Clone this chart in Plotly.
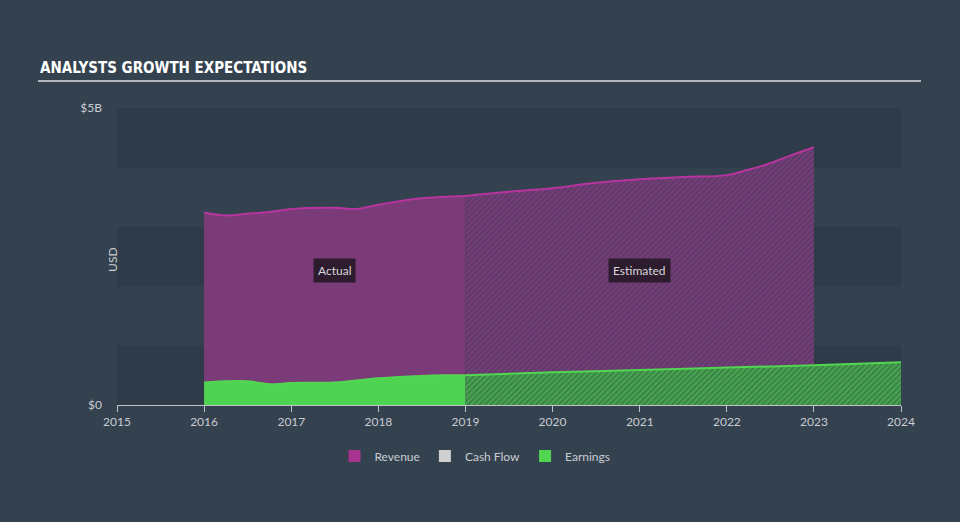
import plotly.graph_objects as go

# ---- data (USD billions) ----
rev_actual_x = ["2016-01-01", "2016-04-01", "2016-07-01", "2016-10-01", "2017-01-01",
                "2017-07-01", "2017-10-01", "2018-01-01", "2018-07-01", "2019-01-01"]
rev_actual_y = [3.24, 3.19, 3.22, 3.25, 3.30, 3.32, 3.30, 3.37, 3.48, 3.52]
rev_est_x = ["2019-01-01", "2019-07-01", "2020-01-01", "2020-07-01", "2021-01-01",
             "2021-07-01", "2022-01-01", "2022-04-01", "2022-07-01", "2022-10-01", "2023-01-01"]
rev_est_y = [3.52, 3.59, 3.65, 3.74, 3.80, 3.84, 3.87, 3.96, 4.07, 4.21, 4.34]

earn_actual_x = ["2016-01-01", "2016-07-01", "2016-10-01", "2017-01-01", "2017-07-01",
                 "2018-01-01", "2018-07-01", "2018-10-01", "2019-01-01"]
earn_actual_y = [0.38, 0.40, 0.35, 0.37, 0.38, 0.45, 0.49, 0.50, 0.50]
earn_est_x = ["2019-01-01", "2020-01-01", "2021-01-01", "2022-01-01", "2023-01-01", "2024-01-01"]
earn_est_y = [0.50, 0.55, 0.59, 0.63, 0.67, 0.72]

year_ticks = ["2015", "2016", "2017", "2018", "2019", "2020", "2021", "2022", "2023", "2024"]

BG = "#344250"
BAND_DARK = "#2f3b48"
TXT = "#c9ccd1"
MAG = "#b8359f"
GREEN = "#52d652"

fig = go.Figure()

fig.add_trace(go.Scatter(x=rev_actual_x, y=rev_actual_y, mode="lines", fill="tozeroy",
                         line=dict(color=MAG, width=2, shape="spline"),
                         fillcolor="#7b3a78", showlegend=False, hoverinfo="skip"))
fig.add_trace(go.Scatter(x=rev_est_x, y=rev_est_y, mode="lines", fill="tozeroy",
                         line=dict(color=MAG, width=2, shape="spline"),
                         fillcolor="#6e3a70",
                         fillpattern=dict(shape="/", fgcolor="#953c8e", bgcolor="#5c3b67",
                                          size=4, solidity=0.5),
                         showlegend=False, hoverinfo="skip"))
fig.add_trace(go.Scatter(x=earn_actual_x, y=earn_actual_y, mode="lines", fill="tozeroy",
                         line=dict(color=GREEN, width=2, shape="spline"),
                         fillcolor="#4fd352", showlegend=False, hoverinfo="skip"))
fig.add_trace(go.Scatter(x=earn_est_x, y=earn_est_y, mode="lines", fill="tozeroy",
                         line=dict(color=GREEN, width=2, shape="spline"),
                         fillcolor="#3f8a4a",
                         fillpattern=dict(shape="/", fgcolor="#52d052", bgcolor="#3c8049",
                                          size=4, solidity=0.5),
                         showlegend=False, hoverinfo="skip"))

# legend entries
for name, col in [("Revenue", "#a8338f"), ("Cash Flow", "#d0d0d0"), ("Earnings", GREEN)]:
    fig.add_trace(go.Scatter(x=[None], y=[None], mode="markers", name=name,
                             marker=dict(symbol="square", size=12, color=col)))

shapes = []
for lo in [0, 2, 4]:
    shapes.append(dict(type="rect", xref="x domain", yref="y", x0=0, x1=1, y0=lo, y1=lo + 1,
                       fillcolor=BAND_DARK, line=dict(width=0), layer="below"))
shapes.append(dict(type="line", xref="paper", yref="paper", x0=-0.1008, x1=1.0255,
                   y0=1.0909, y1=1.0909, line=dict(color="#b4b8bf", width=2)))

annotations = [
    dict(text="<b>ANALYSTS GROWTH EXPECTATIONS</b>", xref="paper", yref="paper",
         x=-0.1008, y=1.1347, xanchor="left", yanchor="middle", showarrow=False,
         font=dict(family="DejaVu Sans Condensed", size=15, color="#ffffff")),
    dict(text="USD", xref="paper", yref="paper", x=-0.0179, y=0.49, textangle=-90,
         showarrow=False, font=dict(family="Lato", size=12, color=TXT)),
    dict(text="Actual", x="2017-07-01", y=2.26, showarrow=False, bgcolor="#2d1b2e",
         borderpad=4, font=dict(family="Lato", size=12, color="#d8d8dc")),
    dict(text="Estimated", x="2021-01-01", y=2.26, showarrow=False, bgcolor="#2d1b2e",
         borderpad=4, font=dict(family="Lato", size=12, color="#d8d8dc")),
]

fig.update_layout(
    width=960, height=522,
    margin=dict(l=117, r=59, t=108, b=117),
    paper_bgcolor=BG, plot_bgcolor=BG,
    font=dict(family="Lato", size=12, color=TXT),
    shapes=shapes, annotations=annotations,
    legend=dict(orientation="h", x=0.4566, y=-0.1717, xanchor="center", yanchor="middle",
                font=dict(size=12, color=TXT), itemclick=False),
    xaxis=dict(type="date", range=["2015-01-01", "2024-01-01"], showgrid=False,
               tickvals=[y + "-01-01" for y in year_ticks], ticktext=year_ticks,
               ticks="outside", ticklen=6, tickcolor="#c0c4ca", showline=True,
               linecolor="#c0c4ca", linewidth=1, zeroline=False,
               tickfont=dict(size=12, color=TXT)),
    yaxis=dict(range=[0, 5], showgrid=False, zeroline=False, tickvals=[0, 5],
               ticktext=["$0", "$5B"], ticklabelstandoff=14, tickfont=dict(size=12, color=TXT)),
)

fig.write_html("out.html", config={"displayModeBar": False},
               post_script="document.body.style.margin='0';document.body.style.background='%s';" % BG)
